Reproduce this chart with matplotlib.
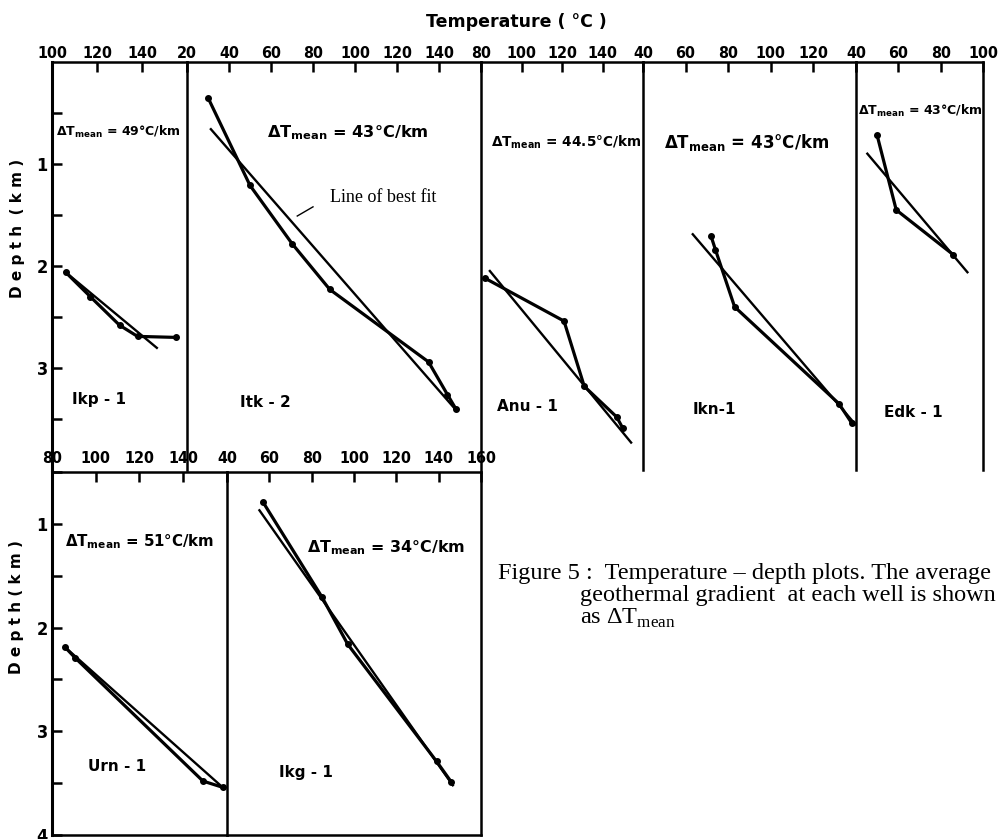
import matplotlib
matplotlib.use("Agg")
import matplotlib.pyplot as plt

# ---- data: temperature (degC) vs depth (km) ----
ikp_t = [106, 117, 130, 138, 155]
ikp_d = [2.06, 2.30, 2.58, 2.69, 2.70]
ikp_fit_t = [106, 147]
ikp_fit_d = [2.06, 2.81]

itk_t = [30, 50, 70, 88, 135, 144, 148]
itk_d = [0.35, 1.21, 1.78, 2.23, 2.94, 3.26, 3.40]
itk_fit_t = [31, 148]
itk_fit_d = [0.65, 3.41]

anu_t = [82, 121, 131, 147, 150]
anu_d = [2.12, 2.54, 3.18, 3.48, 3.59]
anu_fit_t = [84, 154.5]
anu_fit_d = [2.04, 3.74]

ikn_t = [72, 74, 83, 132, 138]
ikn_d = [1.71, 1.84, 2.40, 3.35, 3.54]
ikn_fit_t = [63, 140]
ikn_fit_d = [1.68, 3.56]

edk_t = [50, 59, 86]
edk_d = [0.72, 1.45, 1.89]
edk_fit_t = [45, 93]
edk_fit_d = [0.89, 2.07]

urn_t = [86, 90.5, 149, 158]
urn_d = [2.19, 2.29, 3.48, 3.54]
urn_fit_t = [86, 158]
urn_fit_d = [2.19, 3.54]

ikg_t = [57, 85, 97, 139, 146]
ikg_d = [0.79, 1.71, 2.16, 3.29, 3.49]
ikg_fit_t = [55, 147]
ikg_fit_d = [0.86, 3.53]

gradients = ["49", "43", "44.5", "43", "43", "51", "34"]
wells = ["Ikp - 1", "Itk - 2", "Anu - 1", "Ikn-1", "Edk - 1", "Urn - 1", "Ikg - 1"]

# ---- fonts ----
plt.rcParams["font.family"] = ["DejaVu Sans"]
plt.rcParams["mathtext.fontset"] = "custom"
plt.rcParams["mathtext.rm"] = "Liberation Serif"
plt.rcParams["mathtext.bf"] = "DejaVu Sans:bold"
tickfont = dict(fontfamily=["Liberation Sans Narrow", "DejaVu Sans"],
                fontstretch="condensed", fontweight="bold")

W, H = 1001, 839
fig = plt.figure(figsize=(W / 100, H / 100), dpi=100)


def box(x0, x1, y0, y1):
    return [x0 / W, 1 - y1 / H, (x1 - x0) / W, (y1 - y0) / H]


def panel(px, py, tlim, dlim, last=False, first=False):
    ax = fig.add_axes(box(px[0], px[1], py[0], py[1]))
    ax.set_xlim(*tlim)
    ax.set_ylim(dlim[1], dlim[0])
    ticks = list(range(tlim[0], tlim[1] + 1, 20))
    labels = [str(t) for t in ticks]
    if not last:
        labels[-1] = ""
    ax.xaxis.tick_top()
    ax.set_xticks(ticks)
    ax.set_xticklabels(labels, fontsize=11.5, **tickfont)
    ax.tick_params(axis="x", direction="in", length=7, width=1.8, pad=1)
    for s in ["top", "left", "right", "bottom"]:
        ax.spines[s].set_linewidth(1.8)
    ax.spines["right"].set_visible(last)
    if first:
        ax.spines["left"].set_linewidth(2.2)
    else:
        ax.set_yticks([])
    return ax


def yaxis(ax, major):
    ax.set_yticks(major)
    ax.set_yticklabels([str(m) for m in major], fontsize=13, **tickfont)
    ax.set_yticks([m + 0.5 for m in range(0, 4)], minor=True)
    ax.tick_params(axis="y", which="both", direction="in", length=7,
                   width=1.8, pad=3)


def draw(ax, t, d, ft, fd):
    ax.plot(ft, fd, color="black", lw=1.7, solid_capstyle="butt")
    ax.plot(t, d, color="black", lw=2.3, marker="o", ms=4)


def grad(ax, x, y, g, size=11):
    ax.text(x, y, "ΔT$_{\\mathbf{mean}}$ = " + g + "°C/km", fontsize=size,
            fontweight="bold", ha="left", va="center")


def name(ax, x, y, s):
    ax.text(x, y, s, fontsize=11, fontweight="bold", ha="left", va="center")


top = (62, 470)
bot = (472, 835)

a1 = panel((52, 187), top, (100, 160), (0, 4), first=True)
a1.spines["bottom"].set_visible(False)
yaxis(a1, [1, 2, 3])
draw(a1, ikp_t, ikp_d, ikp_fit_t, ikp_fit_d)
grad(a1, 102, 0.69, gradients[0], size=9)
name(a1, 109, 3.31, wells[0])

a2 = panel((187, 481), top, (20, 160), (0, 4))
a2.spines["bottom"].set_visible(False)
draw(a2, itk_t, itk_d, itk_fit_t, itk_fit_d)
grad(a2, 58, 0.69, gradients[1], size=11.7)
name(a2, 45, 3.34, wells[1])
a2.text(88, 1.33, "Line of best fit", fontfamily="Liberation Serif",
        fontsize=13, ha="left", va="center")
a2.plot([80, 72.5], [1.42, 1.51], color="black", lw=1)

a3 = panel((481, 643), top, (80, 160), (0, 4))
a3.spines["bottom"].set_visible(False)
draw(a3, anu_t, anu_d, anu_fit_t, anu_fit_d)
grad(a3, 85, 0.79, gradients[2], size=9.8)
name(a3, 88, 3.38, wells[2])

a4 = panel((643, 856), top, (40, 140), (0, 4))
a4.spines["bottom"].set_visible(False)
draw(a4, ikn_t, ikn_d, ikn_fit_t, ikn_fit_d)
grad(a4, 50, 0.79, gradients[3], size=12)
name(a4, 63.5, 3.41, wells[3])

a5 = panel((856, 983), top, (40, 100), (0, 4), last=True)
a5.spines["bottom"].set_visible(False)
draw(a5, edk_t, edk_d, edk_fit_t, edk_fit_d)
grad(a5, 40.8, 0.48, gradients[4], size=9)
name(a5, 53, 3.44, wells[4])

b1 = panel((52, 227), bot, (80, 160), (0.5, 4), first=True)
yaxis(b1, [1, 2, 3, 4])
draw(b1, urn_t, urn_d, urn_fit_t, urn_fit_d)
grad(b1, 86, 1.17, gradients[5], size=10.8)
name(b1, 96.5, 3.34, wells[5])

b2 = panel((227, 481), bot, (40, 160), (0.5, 4), last=True)
b1.tick_params(axis="x", pad=4)
b2.tick_params(axis="x", pad=4)
draw(b2, ikg_t, ikg_d, ikg_fit_t, ikg_fit_d)
grad(b2, 78, 1.23, gradients[6], size=11.4)
name(b2, 64.6, 3.40, wells[6])

fig.text(516 / W, 1 - 22 / H, "Temperature ( °C )", fontsize=12.5,
         fontweight="bold", ha="center", va="center")
fig.text(18 / W, 1 - 228 / H, "D e p t h  ( k m )", fontsize=11,
         fontweight="bold", rotation=90, ha="center", va="center")
fig.text(17 / W, 1 - 607 / H, "D e p t h ( k m )", fontsize=11,
         fontweight="bold", rotation=90, ha="center", va="center")

cap = dict(fontfamily="Liberation Serif", fontsize=17.5, ha="left", va="center")
fig.text(498 / W, 1 - 574 / H, "Figure 5 :  Temperature – depth plots. The average", **cap)
fig.text(580 / W, 1 - 596 / H, "geothermal gradient  at each well is shown", **cap)
fig.text(580 / W, 1 - 618 / H, "as ΔT$_{\\mathrm{mean}}$", **cap)

fig.savefig("out.png", dpi=100)
